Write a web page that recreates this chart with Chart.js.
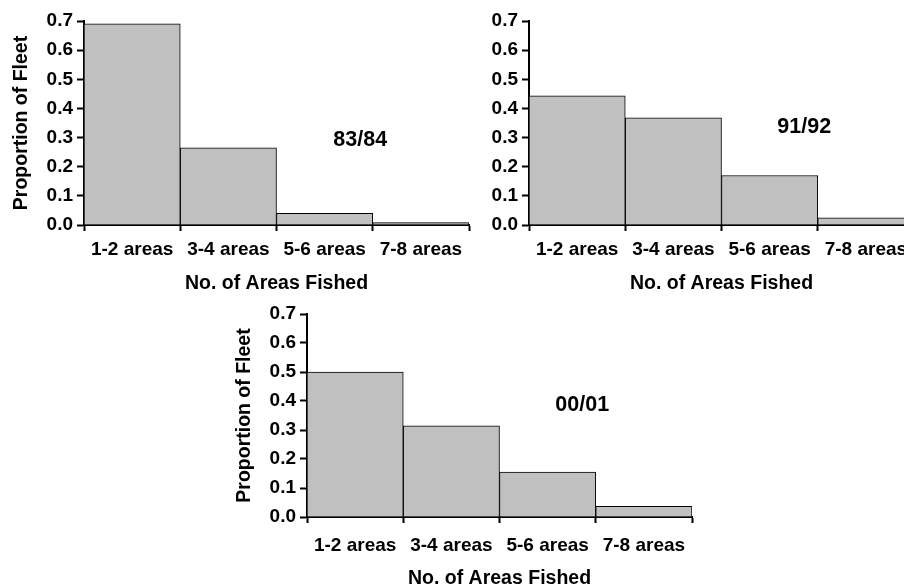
<!DOCTYPE html>
<html>
<head>
<meta charset="utf-8">
<script src="https://cdn.jsdelivr.net/npm/chart.js@4/dist/chart.umd.min.js"></script>
<style>
  html, body { margin: 0; padding: 0; width: 904px; height: 585px; overflow: hidden; background: #fff; }
  canvas { position: absolute; }
</style>
</head>
<body>
<canvas id="c1" width="480" height="300" style="left:0px;top:0px"></canvas>
<canvas id="c2" width="480" height="300" style="left:445px;top:0px"></canvas>
<canvas id="c3" width="480" height="299" style="left:223px;top:293px"></canvas>
<script>
// ---- data ----
const categories = ['1-2 areas', '3-4 areas', '5-6 areas', '7-8 areas'];
const season8384 = [0.69, 0.265, 0.04, 0.008];
const season9192 = [0.443, 0.368, 0.17, 0.025];
const season0001 = [0.50, 0.314, 0.155, 0.037];
const yTicks = [0.0, 0.1, 0.2, 0.3, 0.4, 0.5, 0.6, 0.7];
const xTitle = 'No. of Areas Fished';
const yTitle = 'Proportion of Fleet';

const FONT = "'Liberation Sans', Arial, sans-serif";

const panelLabel = {
  id: 'panelLabel',
  afterDraw(chart, args, opts) {
    if (!opts || !opts.text) return;
    const ctx = chart.ctx;
    const x = chart.scales.x.getPixelForValue(opts.x);
    const y = chart.scales.y.getPixelForValue(opts.y);
    ctx.save();
    ctx.font = 'bold 21.5px ' + FONT;
    ctx.fillStyle = '#000';
    ctx.textAlign = 'center';
    ctx.textBaseline = 'middle';
    ctx.fillText(opts.text, x, y);
    ctx.restore();
  }
};

function makeChart(id, values, label, labelPos, showYTitle, tickPad, titlePad) {
  return new Chart(document.getElementById(id), {
    type: 'bar',
    data: {
      labels: categories,
      datasets: [{
        data: values,
        backgroundColor: '#c0c0c0',
        borderColor: '#000',
        borderWidth: 1,
        borderSkipped: 'bottom',
        categoryPercentage: 1.0,
        barPercentage: 1.0
      }]
    },
    options: {
      responsive: false,
      animation: false,
      devicePixelRatio: 1,
      layout: { padding: { top: 21, right: 11, left: 0, bottom: 0 } },
      plugins: {
        legend: { display: false },
        tooltip: { enabled: false },
        panelLabel: { text: label, x: labelPos[0], y: labelPos[1] }
      },
      scales: {
        x: {
          type: 'category',
          offset: true,
          grid: {
            offset: true,
            drawOnChartArea: false,
            drawTicks: true,
            tickLength: 6,
            tickWidth: 2,
            tickColor: '#000'
          },
          border: { display: true, color: '#000', width: 2 },
          ticks: {
            color: '#000',
            font: { family: FONT, size: 19, weight: 'bold' },
            padding: tickPad,
            maxRotation: 0,
            autoSkip: false
          },
          title: {
            display: true,
            text: xTitle,
            color: '#000',
            font: { family: FONT, size: 19.5, weight: 'bold' },
            padding: { top: 0, bottom: titlePad }
          },
          afterFit(scale) { scale.height = 75; }
        },
        y: {
          min: 0,
          max: 0.7,
          afterBuildTicks(scale) { scale.ticks = yTicks.map(v => ({ value: v })); },
          grid: {
            drawOnChartArea: false,
            drawTicks: true,
            tickLength: 7,
            tickWidth: 2,
            tickColor: '#000'
          },
          border: { display: true, color: '#000', width: 2 },
          ticks: {
            color: '#000',
            font: { family: FONT, size: 19, weight: 'bold' },
            padding: 4,
            callback: v => Number(v).toFixed(1)
          },
          title: {
            display: showYTitle,
            text: yTitle,
            color: '#000',
            font: { family: FONT, size: 19.5, weight: 'bold' },
            padding: { top: 10, bottom: 0 }
          },
          afterFit(scale) { scale.width = 84; }
        }
      }
    },
    plugins: [panelLabel]
  });
}

makeChart('c1', season8384, '83/84', [2.37, 0.29], true, 7.5, 5);
makeChart('c2', season9192, '91/92', [2.36, 0.336], false, 7.5, 5);
makeChart('c3', season0001, '00/01', [2.36, 0.386], true, 11, 2);
</script>
</body>
</html>
